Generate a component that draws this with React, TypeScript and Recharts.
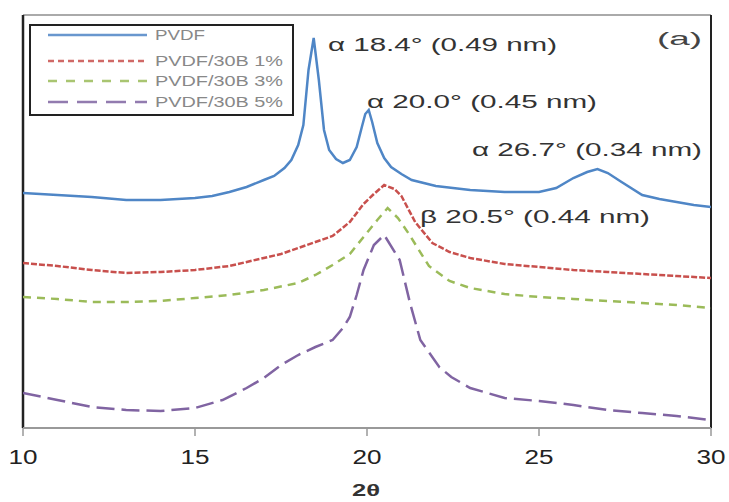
import { Line, LineChart, ReferenceLine, XAxis, YAxis } from "recharts";

// 2θ positions and relative intensities (arbitrary units)
const pvdfTheta = [10, 11, 12, 13, 14, 15, 15.5, 16, 16.5, 17, 17.3, 17.6, 17.8, 18, 18.15, 18.3, 18.45, 18.6, 18.75, 18.9, 19.1, 19.3, 19.5, 19.7, 19.85, 19.95, 20.05, 20.15, 20.3, 20.5, 20.7, 21, 21.3, 22, 23, 24, 25, 25.5, 26, 26.4, 26.7, 27, 27.4, 28, 28.5, 29, 29.5, 30];
const pvdfI = [235, 233, 231, 228, 228, 230, 232, 236, 241, 248, 252, 260, 268, 283, 303, 358, 390, 348, 298, 278, 269, 265, 268, 281, 301, 314, 318, 306, 285, 270, 261, 254, 248, 242, 238, 236, 236, 240, 250, 256, 259, 255, 246, 233, 229, 226, 223, 221];

const c1Theta = [10, 11, 12, 13, 14, 15, 16, 17, 17.5, 18, 18.5, 19, 19.5, 19.9, 20.2, 20.5, 20.8, 21, 21.4, 21.9, 22.4, 23, 24, 25, 26, 27, 28, 29, 30];
const c1I = [165, 162, 158, 155, 156, 158, 162, 170, 174, 180, 186, 192, 206, 224, 234, 243, 239, 232, 206, 185, 176, 170, 164, 161, 158, 156, 154, 152, 150];

const c3Theta = [10, 11, 12, 13, 14, 15, 16, 17, 18, 18.5, 19, 19.5, 19.9, 20.3, 20.6, 20.9, 21.2, 21.8, 22.4, 23, 24, 25, 26, 27, 28, 29, 30];
const c3I = [131, 129, 126, 126, 127, 130, 133, 138, 145, 153, 163, 174, 191, 208, 220, 210, 195, 162, 147, 140, 134, 131, 129, 127, 125, 123, 120];

const c5Theta = [10, 11, 12, 13, 14, 15, 15.8, 16.5, 17, 17.5, 18, 18.5, 19, 19.3, 19.5, 19.7, 19.9, 20.2, 20.5, 20.95, 21.25, 21.55, 22.1, 22.45, 23, 24, 25, 26, 27, 28, 29, 30];
const c5I = [35, 28, 21, 18, 17, 20, 28, 40, 50, 63, 73, 81, 88, 100, 111, 133, 158, 183, 193, 168, 125, 88, 61, 51, 40, 30, 27, 23, 18, 15, 12, 8];

const xTicks = [10, 15, 20, 25, 30];

const zip = (t: number[], v: number[]) => t.map((x, i) => ({ theta: x, i: v[i] }));

const series = [
  { name: "PVDF", data: zip(pvdfTheta, pvdfI), color: "#4f86c6", dash: undefined, legendDash: undefined },
  { name: "PVDF/30B 1%", data: zip(c1Theta, c1I), color: "#c8504d", dash: "6 2", legendDash: "6 4" },
  { name: "PVDF/30B 3%", data: zip(c3Theta, c3I), color: "#9bbb59", dash: "8 6", legendDash: "9 9" },
  { name: "PVDF/30B 5%", data: zip(c5Theta, c5I), color: "#8064a2", dash: "18 7", legendDash: "20 9" },
];

const notes = [
  { text: "α 18.4° (0.49 nm)", x: 328, y: 51, w: 229 },
  { text: "α 20.0° (0.45 nm)", x: 367, y: 108, w: 230 },
  { text: "α 26.7° (0.34 nm)", x: 472, y: 156, w: 230 },
  { text: "β 20.5° (0.44 nm)", x: 420, y: 223, w: 230 },
];

const font = "'Liberation Sans', Arial, sans-serif";

function Tick(props: any) {
  const { x, y, payload } = props;
  return (
    <text x={x} y={y + 26} textAnchor="middle" fontSize={20} fill="#222" fontFamily={font}
      textLength={29} lengthAdjust="spacingAndGlyphs">
      {payload.value}
    </text>
  );
}

const legendRows = [35, 61, 81, 102];

export default function App() {
  return (
    <div style={{ position: "absolute", left: 0, top: 0, background: "#fff" }}>
      <LineChart width={729} height={502} margin={{ top: 15, right: 18, left: 23, bottom: 8 }}>
        <XAxis
          type="number"
          dataKey="theta"
          domain={[10, 30]}
          ticks={xTicks}
          allowDataOverflow
          height={66}
          tick={<Tick />}
          tickSize={8}
          axisLine={{ stroke: "#999", strokeWidth: 2 }}
          tickLine={{ stroke: "#999", strokeWidth: 1.5 }}
        />
        <YAxis hide type="number" domain={[0, 413]} />
        <ReferenceLine y={413} stroke="#aaa" strokeWidth={2} />
        <ReferenceLine x={10} stroke="#222" strokeWidth={2.5} />
        <ReferenceLine x={30} stroke="#222" strokeWidth={2} />
        {series.map((s) => (
          <Line
            key={s.name}
            data={s.data}
            dataKey="i"
            type="linear"
            stroke={s.color}
            strokeWidth={2.5}
            strokeDasharray={s.dash}
            dot={false}
            isAnimationActive={false}
          />
        ))}
        <g fontFamily={font}>
          {notes.map((n) => (
            <text key={n.text} x={n.x} y={n.y} fontSize={18} fill="#333" textLength={n.w} lengthAdjust="spacingAndGlyphs">
              {n.text}
            </text>
          ))}
          <text x={657} y={45} fontSize={18} fill="#444" textLength={45} lengthAdjust="spacingAndGlyphs">(a)</text>
          <text x={366} y={496} fontSize={16} fontWeight="bold" fill="#333" textAnchor="middle" textLength={28} lengthAdjust="spacingAndGlyphs">2θ</text>
          <rect x={30} y={25} width={263} height={90} fill="#fff" stroke="#222" strokeWidth={2} />
          {series.map((s, k) => (
            <g key={s.name}>
              <line x1={48} x2={147} y1={legendRows[k]} y2={legendRows[k]} stroke={s.color} strokeWidth={2.5}
                strokeDasharray={s.legendDash} opacity={0.85} />
              <text x={155} y={legendRows[k] + 5} fontSize={14} fill="#888"
                textLength={k === 0 ? 50 : 128} lengthAdjust="spacingAndGlyphs">
                {s.name}
              </text>
            </g>
          ))}
        </g>
      </LineChart>
    </div>
  );
}
